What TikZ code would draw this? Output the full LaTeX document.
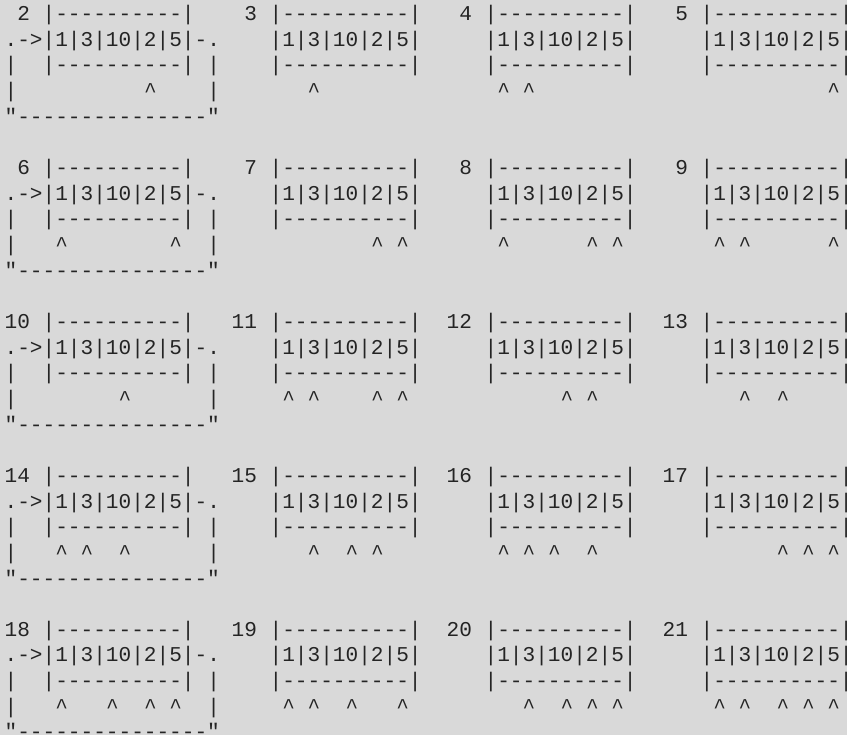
\documentclass[tikz,border=0pt]{standalone}
\usepackage{fontspec}
\setmonofont{Liberation Mono}
\usepackage{tikz}
\definecolor{paper}{HTML}{D9D9D9}
\definecolor{ink}{HTML}{242424}
\newcommand{\charw}{12.67}
\newcommand{\lineh}{25.65}
\tikzset{
  ascii/.style={
    font=\ttfamily\fontsize{21.1}{25.65}\selectfont, text=ink,
    inner sep=0pt, outer sep=0pt, anchor=base west
  },
  caret/.style={ascii, anchor=base},
}

\begin{document}
\begin{tikzpicture}[x=1pt,y=-1pt]
  % scanned page
  \fill[paper] (0,0) rectangle (847,735);
  \useasboundingbox (0,0) rectangle (847,735);

  % one print of the array per step
  \foreach \nr/\col/\row/\marks in {
      2/0/0/{11}, 3/1/0/{6}, 4/2/0/{4,6}, 5/3/0/{13},
      6/0/1/{4,13}, 7/1/1/{11,13}, 8/2/1/{4,11,13}, 9/3/1/{4,6,13},
      10/0/2/{9}, 11/1/2/{4,6,11,13}, 12/2/2/{9,11}, 13/3/2/{6,9},
      14/0/3/{4,6,9}, 15/1/3/{6,9,11}, 16/2/3/{4,6,8,11}, 17/3/3/{9,11,13},
      18/0/4/{4,8,11,13}, 19/1/4/{4,6,9,13}, 20/2/4/{6,9,11,13}, 21/3/4/{4,6,9,11,13}} {
    \pgfmathsetmacro{\bx}{{49,276,491,707}[\col]}
    \pgfmathsetmacro{\by}{20.7+6*\lineh*\row}
    \begin{scope}[shift={(\bx,\by)}]
      \node[ascii, anchor=base east] (num\nr) at (-1.5*\charw,0) {\nr};
      \node[ascii] (top\nr) at (-0.5*\charw,0) {|----------|};
      \node[ascii] (cells\nr) at (-0.5*\charw,\lineh) {|1|3|10|2|5|};
      \node[ascii] (bot\nr) at (-0.5*\charw,2*\lineh) {|----------|};
      \foreach \mk in \marks
        \node[caret] (mark\nr-\mk) at ({(\mk-3)*\charw},3*\lineh) {\textasciicircum};
    \end{scope}
  }

  % the loop drawn round the first print of each row
  \foreach \row in {0,...,4} {
    \pgfmathsetmacro{\by}{20.7+6*\lineh*\row}
    \begin{scope}[shift={(49,\by)}]
      \node[ascii] (in\row) at (-3.5*\charw,\lineh) {.->};
      \node[ascii] (out\row) at (11.5*\charw,\lineh) {-.};
      \foreach \k in {2,3} {
        \node[caret] (lside\row-\k) at (-3*\charw,\k*\lineh) {|};
        \node[caret] (rside\row-\k) at (13*\charw,\k*\lineh) {|};
      }
      \node[ascii] (back\row) at (-3.5*\charw,4*\lineh) {"---------------"};
    \end{scope}
  }
\end{tikzpicture}
\end{document}
